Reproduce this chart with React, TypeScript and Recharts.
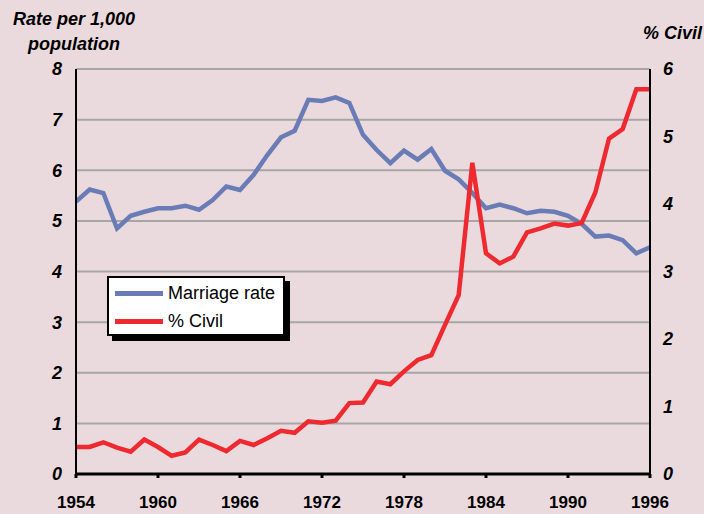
import { LineChart, Line, XAxis, YAxis, CartesianGrid } from 'recharts';

const years = [
  1954, 1955, 1956, 1957, 1958, 1959, 1960, 1961, 1962, 1963, 1964, 1965, 1966, 1967,
  1968, 1969, 1970, 1971, 1972, 1973, 1974, 1975, 1976, 1977, 1978, 1979, 1980, 1981,
  1982, 1983, 1984, 1985, 1986, 1987, 1988, 1989, 1990, 1991, 1992, 1993, 1994, 1995, 1996,
];

// rate per 1,000 population (left axis)
const marriageRate = [
  5.38, 5.62, 5.55, 4.85, 5.1, 5.18, 5.25, 5.25, 5.3, 5.22, 5.41, 5.68, 5.61, 5.91,
  6.3, 6.65, 6.78, 7.39, 7.37, 7.44, 7.33, 6.7, 6.4, 6.14, 6.39, 6.21, 6.42, 5.99,
  5.82, 5.55, 5.25, 5.32, 5.25, 5.15, 5.2, 5.18, 5.1, 4.94, 4.69, 4.71, 4.62, 4.36, 4.48,
];

// % civil ceremonies (right axis)
const civilPct = [
  0.4, 0.4, 0.47, 0.39, 0.33, 0.51, 0.4, 0.27, 0.32, 0.51, 0.43, 0.34, 0.49, 0.43,
  0.53, 0.64, 0.61, 0.78, 0.76, 0.79, 1.05, 1.06, 1.37, 1.33, 1.52, 1.69, 1.76, 2.21,
  2.65, 4.61, 3.27, 3.12, 3.22, 3.58, 3.64, 3.71, 3.68, 3.72, 4.17, 4.97, 5.11, 5.7, 5.7,
];

const xTicks = [1954, 1960, 1966, 1972, 1978, 1984, 1990, 1996];
const leftTicks = [0, 1, 2, 3, 4, 5, 6, 7, 8];
const rightTicks = [0, 1, 2, 3, 4, 5, 6];

const data = years.map((year, i) => ({
  year,
  rate: marriageRate[i],
  civil: civilPct[i],
}));

const FONT = '"Liberation Sans", Arial, Helvetica, sans-serif';
const BG = '#ebdadd';
const BLUE = '#6a7cb5';
const RED = '#ee2a30';

const tickStyle = { fill: '#000', fontSize: 18, fontWeight: 'bold', fontStyle: 'italic', fontFamily: FONT };

function LegendBox() {
  const items = [
    { label: 'Marriage rate', color: BLUE },
    { label: '% Civil', color: RED },
  ];
  return (
    <div
      style={{
        position: 'absolute',
        left: 107,
        top: 276,
        width: 174,
        height: 55,
        background: '#fff',
        border: '2px solid #000',
        boxShadow: '5px 5px 0 #000',
        fontFamily: FONT,
        fontSize: 18,
        color: '#000',
        paddingTop: 1,
        boxSizing: 'content-box',
        zIndex: 2,
      }}
    >
      {items.map((it) => (
        <div key={it.label} style={{ display: 'flex', alignItems: 'center', height: 28 }}>
          <span style={{ display: 'inline-block', width: 48, height: 5, background: it.color, marginLeft: 6, marginRight: 5 }} />
          <span>{it.label}</span>
        </div>
      ))}
    </div>
  );
}

export default function App() {
  return (
    <div style={{ position: 'absolute', left: 0, top: 0, width: 704, height: 514, background: BG, overflow: 'hidden' }}>
      <div
        style={{
          position: 'absolute',
          left: 0,
          top: 7,
          width: 148,
          textAlign: 'center',
          fontFamily: FONT,
          fontWeight: 'bold',
          fontStyle: 'italic',
          fontSize: 18,
          lineHeight: '25px',
          color: '#000',
        }}
      >
        Rate per 1,000
        <br />
        population
      </div>
      <div
        style={{
          position: 'absolute',
          left: 643,
          top: 23,
          fontFamily: FONT,
          fontWeight: 'bold',
          fontStyle: 'italic',
          fontSize: 18,
          color: '#000',
          whiteSpace: 'nowrap',
        }}
      >
        % Civil
      </div>
      <LineChart width={704} height={514} data={data} margin={{ top: 69, right: 0, left: 0, bottom: 0 }}>
        <CartesianGrid yAxisId="left" horizontal vertical={false} stroke="#a6a6a6" strokeWidth={2} />
        <XAxis
          dataKey="year"
          type="number"
          domain={[1954, 1996]}
          ticks={xTicks}
          height={40}
          axisLine={{ stroke: '#000', strokeWidth: 3 }}
          tickLine={{ stroke: '#000', strokeWidth: 3 }}
          tickSize={4}
          tickMargin={18}
          tick={{ fill: '#000', fontSize: 17, fontWeight: 'bold', fontFamily: FONT }}
        />
        <YAxis
          yAxisId="left"
          orientation="left"
          width={76}
          domain={[0, 8]}
          ticks={leftTicks}
          axisLine={{ stroke: '#000', strokeWidth: 2 }}
          tickLine={false}
          tickSize={6}
          tickMargin={8}
          tick={tickStyle}
        />
        <YAxis
          yAxisId="right"
          orientation="right"
          width={54}
          domain={[0, 6]}
          ticks={rightTicks}
          axisLine={{ stroke: '#000', strokeWidth: 2 }}
          tickLine={false}
          tickSize={6}
          tickMargin={7}
          tick={tickStyle}
        />
        <Line
          yAxisId="left"
          type="linear"
          dataKey="rate"
          name="Marriage rate"
          stroke={BLUE}
          strokeWidth={4.5}
          dot={false}
          isAnimationActive={false}
        />
        <Line
          yAxisId="right"
          type="linear"
          dataKey="civil"
          name="% Civil"
          stroke={RED}
          strokeWidth={4.5}
          dot={false}
          isAnimationActive={false}
        />
      </LineChart>
      <LegendBox />
    </div>
  );
}
